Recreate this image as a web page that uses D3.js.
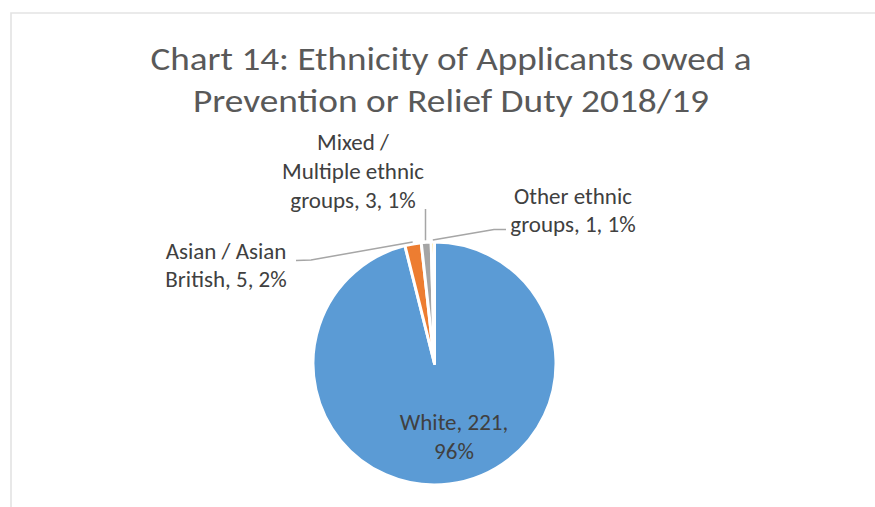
<!DOCTYPE html>
<html>
<head>
<meta charset="utf-8">
<script src="https://cdn.jsdelivr.net/npm/d3@7/dist/d3.min.js"></script>
<style>
  html, body { margin: 0; padding: 0; background: #fff; }
  svg { display: block; }
  text { font-family: Carlito, Calibri, Lato, "Open Sans", sans-serif; }
</style>
</head>
<body>
<svg id="chart" width="875" height="507"></svg>
<script>
// Applicants owed a prevention or relief duty, 2018/19, by ethnicity
const categories = ["White", "Asian / Asian British", "Mixed / Multiple ethnic groups", "Other ethnic groups"];
const counts = [221, 5, 3, 1];
const percentLabels = ["96%", "2%", "1%", "1%"];
const sliceColors = ["#5B9BD5", "#ED7D31", "#A5A5A5", "#FFC000"];

// Data label text, broken into lines as displayed
const labelLines = [
  ["White, " + counts[0] + ",", percentLabels[0]],
  ["Asian / Asian", "British, " + counts[1] + ", " + percentLabels[1]],
  ["Mixed /", "Multiple ethnic", "groups, " + counts[2] + ", " + percentLabels[2]],
  ["Other ethnic", "groups, " + counts[3] + ", " + percentLabels[3]]
];
const titleLines = ["Chart 14: Ethnicity of Applicants owed a", "Prevention or Relief Duty 2018/19"];

const svg = d3.select("#chart");
const W = 875, H = 507;

// Chart area frame (runs off the right and bottom edges)
svg.append("path")
  .attr("d", `M11,${H + 2} L11,13 L${W + 2},13`)
  .attr("fill", "none")
  .attr("stroke", "#E3E3E3")
  .attr("stroke-width", 1.6);

// Title
const titleLayout = [
  { y: 70, width: 601 },
  { y: 111.5, width: 516 }
];
svg.append("g").selectAll("text")
  .data(titleLines)
  .join("text")
  .attr("x", 451)
  .attr("y", (d, i) => titleLayout[i].y)
  .attr("text-anchor", "middle")
  .attr("font-size", 32.5)
  .attr("fill", "#595959")
  .attr("textLength", (d, i) => titleLayout[i].width)
  .attr("lengthAdjust", "spacingAndGlyphs")
  .text(d => d);

// Pie
const cx = 434.5, cy = 363.5, radius = 121.5;
const pie = d3.pie().sort(null).value(d => d).startAngle(0).endAngle(2 * Math.PI);
const arcs = pie(counts);
const arc = d3.arc().innerRadius(0).outerRadius(radius);

const g = svg.append("g").attr("transform", `translate(${cx},${cy})`);
g.selectAll("path")
  .data(arcs)
  .join("path")
  .attr("d", arc)
  .attr("fill", (d, i) => sliceColors[i])
  .attr("stroke", "#fff")
  .attr("stroke-width", 3)
  .attr("stroke-linejoin", "round");

// Point just outside the rim at the middle of a slice
function rimPoint(a, extra) {
  const mid = (a.startAngle + a.endAngle) / 2;
  const rr = radius + extra;
  return [cx + rr * Math.sin(mid), cy - rr * Math.cos(mid)];
}

// Label placement: anchor x, first baseline, line step, leader route
const labelLayout = [
  { x: 454, y: 429.5, step: 29, leader: null },
  { x: 226, y: 258.5, step: 28.5, leader: [[296, 260.5], [311, 260]] },
  { x: 353, y: 150, step: 29, leader: [[425.5, 209]] },
  { x: 573, y: 204, step: 28, leader: [[506, 229.5], [494, 229.5]] }
];

const leaders = svg.append("g")
  .attr("fill", "none")
  .attr("stroke", "#A6A6A6")
  .attr("stroke-width", 1.5);

arcs.forEach((a, i) => {
  const lay = labelLayout[i];
  if (lay.leader) {
    const pts = lay.leader.slice();
    const end = rimPoint(a, 2);
    if (i === 2) pts.push([pts[0][0], end[1]]); // vertical drop for the middle label
    else pts.push(end);
    leaders.append("path").attr("d", d3.line()(pts));
  }
  svg.append("text")
    .attr("text-anchor", "middle")
    .attr("font-size", 23)
    .attr("fill", "#404040")
    .selectAll("tspan")
    .data(labelLines[i])
    .join("tspan")
    .attr("x", lay.x)
    .attr("y", (d, k) => lay.y + k * lay.step)
    .text(d => d);
});
</script>
</body>
</html>
